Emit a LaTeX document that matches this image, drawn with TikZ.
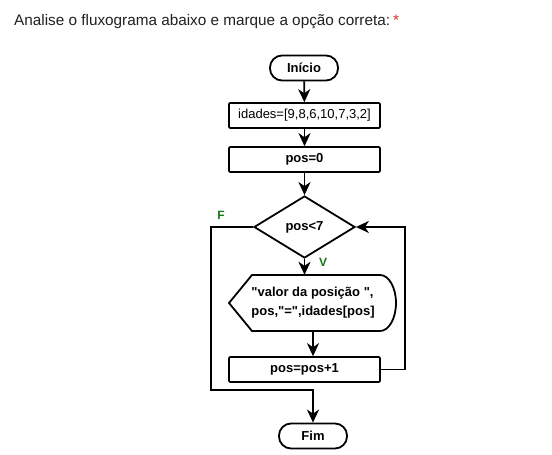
\documentclass[tikz,border=0pt]{standalone}
\usepackage{fontspec}
\newfontfamily\libsans{Liberation Sans}
\usetikzlibrary{shapes.geometric,arrows.meta}
\definecolor{titlegray}{HTML}{202124}
\definecolor{starred}{HTML}{D93025}
\definecolor{lblgreen}{RGB}{20,120,20}
\tikzset{
  ln/.style={line width=1.8pt, line join=miter},
  arr/.style={ln, -{Stealth[length=13pt,width=12pt,inset=4pt]}},
  term/.style={draw, ln, rectangle, rounded corners=12pt, minimum width=68pt, minimum height=25pt, inner sep=0pt, font=\libsans\fontsize{13}{15}\selectfont\bfseries},
  procbox/.style={draw, line width=1.6pt, rectangle, rounded corners=1pt, minimum width=151pt, minimum height=25pt, inner sep=0pt, font=\libsans\fontsize{13}{15}\selectfont\bfseries},
  decis/.style={draw, ln, diamond, minimum width=101pt, minimum height=62pt, inner sep=0pt, font=\libsans\fontsize{13}{15}\selectfont\bfseries},
  lbl/.style={text=lblgreen, font=\libsans\fontsize{12}{14}\selectfont\bfseries, inner sep=0pt},
}
\begin{document}
\begin{tikzpicture}[x=1pt,y=-1pt]
\useasboundingbox[fill=white] (0,0) rectangle (552,455);
\node[anchor=base west, inner sep=0pt, text=titlegray, font=\libsans\fontsize{15.3}{18}\selectfont] (title) at (14,25) {Analise o fluxograma abaixo e marque a opção correta:\hspace{3pt}\textcolor{starred}{*}};

\node[term] (ini) at (304,68) {Início};
\node[procbox, font=\libsans\fontsize{13}{15}\selectfont] (ida) at (304.5,115.5) {idades=[9,8,6,10,7,3,2]};
\node[procbox] (p0) at (304.5,159.5) {pos=0};
\node[decis] (dia) at (304.5,227) {pos<7};
\node[minimum height=56pt, minimum width=120pt, inner sep=0pt, align=left, font=\libsans\fontsize{13}{19}\selectfont\bfseries] (disp) at (313,303) {\symbol{34}valor da posição \symbol{34},\\pos,\symbol{34}=\symbol{34},idades[pos]};
\draw[ln] (229,303) -- (252,275) -- (380,275) arc[start angle=-90, end angle=90, x radius=16, y radius=28] -- (252,331) -- cycle;
\node[procbox] (inc) at (304.5,369.5) {pos=pos+1};
\node[term] (fim) at (313,436) {Fim};

\node[lbl] (lf) at (221,215) {F};
\node[lbl] (lv) at (323,262) {V};

\coordinate (rl) at (405,369.5);
\coordinate (fl) at (211,390);

\draw[arr] (ini) -- (ida);
\draw[arr] (ida) -- (p0);
\draw[arr] (p0) -- (dia.north);
\draw[arr] (dia.south) -- (dia.south |- disp.north);
\draw[arr] (disp.south) -- (disp.south |- inc.north);
\draw[arr] (inc.east) -- (rl) |- (dia.east);
\draw[arr] (dia.west) -| (fl) -| (fim.north);
\end{tikzpicture}
\end{document}
